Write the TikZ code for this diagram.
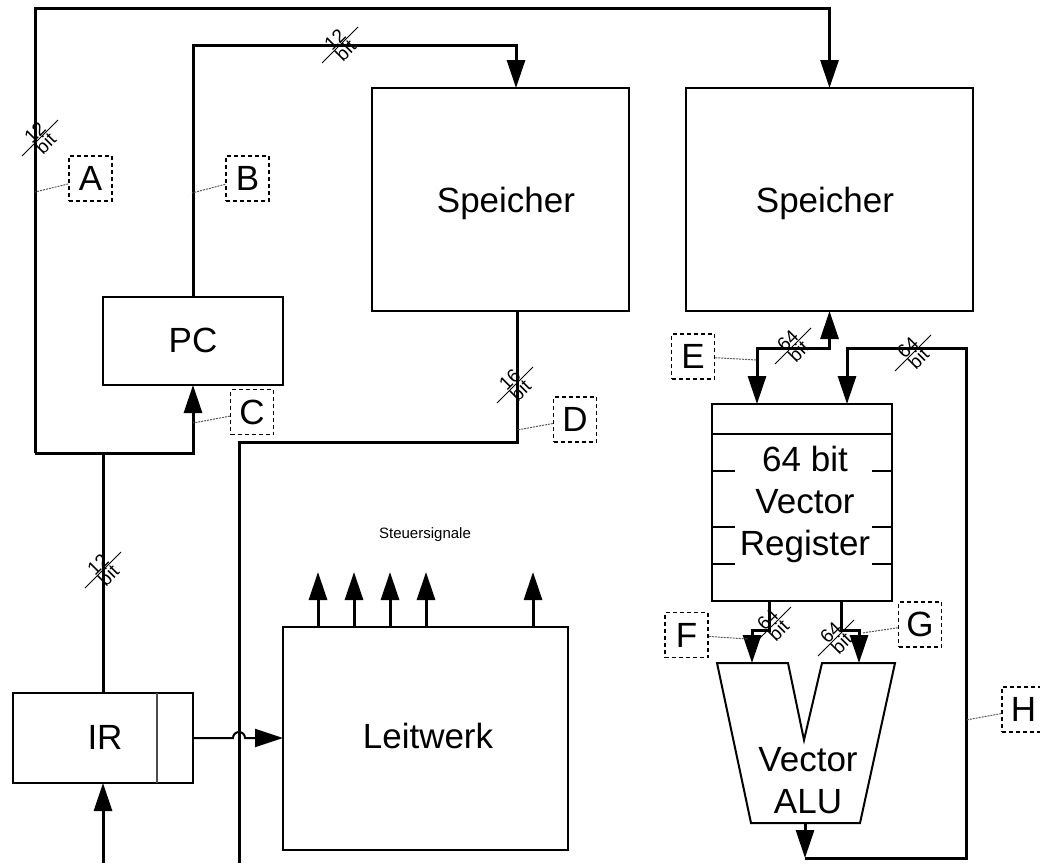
\documentclass[tikz,border=0pt]{standalone}
\usepackage{fontspec}
\setmainfont{Liberation Sans}
\usetikzlibrary{arrows.meta}

\newcommand{\labfont}{\fontsize{35}{42}\selectfont}
\newcommand{\bitfont}{\fontsize{19}{20}\selectfont}
\newcommand{\sigfont}{\fontsize{15}{17}\selectfont}

% bus width mark: name, x, y, width
\newcommand{\busmark}[4]{%
  \draw[line width=1pt] (#2-18,#3+18) -- (#2+18,#3-18);
  \node[rotate=45,anchor=south,inner sep=0.5pt,font=\bitfont] (#1n) at (#2,#3) {#4};
  \node[rotate=45,anchor=north,inner sep=0.5pt,font=\bitfont] (#1b) at (#2,#3) {bit};
}

\begin{document}
\begin{tikzpicture}[x=1pt,y=-1pt,>={Triangle[width=18pt,length=28pt]},
  box/.style={draw,line width=2pt,inner sep=0pt,outer sep=0pt},
  bus/.style={line width=3pt},
  wire/.style={line width=2pt},
  lbl/.style={draw,line width=1.5pt,dash pattern=on 4pt off 3pt,minimum width=43pt,minimum height=45pt,inner sep=0pt,font=\labfont},
  lead/.style={gray!70!black,line width=1pt,dash pattern=on 2pt off 1pt},
  txt/.style={inner sep=0pt,font=\labfont,anchor=base}]

\useasboundingbox (0,0) rectangle (1040,863);

% Rows of the buses
\def\yTop{8}
\def\yPc{45}
\def\yJ{453}
\def\yD{442}
\def\yE{348}
\def\yLoop{858}

% Boxes
\node[box,minimum width=257pt,minimum height=223pt] (spA) at (500.5,199.5) {};
\node[box,minimum width=287pt,minimum height=223pt] (spB) at (829.5,199.5) {};
\node[box,minimum width=180pt,minimum height=88pt] (pc) at (193,341) {};
\node[box,minimum width=180pt,minimum height=90pt] (ir) at (103,738) {};
\node[box,minimum width=285pt,minimum height=223pt] (lw) at (425.5,738) {};
\node[box,minimum width=180pt,minimum height=197pt] (reg) at (802,502.5) {};

% IR divider, register rows
\draw[line width=1.2pt,gray!60!black] ([xshift=-36pt]ir.north east) -- ([xshift=-36pt]ir.south east);
\draw[line width=2pt] ([yshift=-30pt]reg.north west) -- ([yshift=-30pt]reg.north east);
\foreach \ty in {471,527,564} {
  \draw[line width=2pt] (reg.west |- 0,\ty) -- ++(23,0);
  \draw[line width=2pt] (reg.east |- 0,\ty) -- ++(-20,0);
}

% Texts
\node[txt] (spAt) at (506,212) {Speicher};
\node[txt] (spBt) at (825,212) {Speicher};
\node[txt] (pct) at (193,352) {PC};
\node[txt] (irt) at (105,749) {IR};
\node[txt] (lwt) at (428,748) {Leitwerk};
\node[txt,anchor=center,align=center] (regt) at (805,504) {64 bit\\Vector\\Register};

% Vector ALU
\draw[wire] (717,663) -- (788,663) -- (804,740) -- (822,663) -- (895,663) -- (860,823) -- (751,823) -- cycle;
\coordinate (aluA) at (752,663);
\coordinate (aluB) at (859,663);
\coordinate (aluout) at (805,823);
\node[txt,anchor=center,align=center] (alut) at (808,781) {Vector\\ALU};

% Address buses
\coordinate (jL) at (35,\yJ);
\coordinate (jIR) at (103,\yJ);
\draw[bus] (ir.north) -- (jIR);
\draw[bus,->] (jL) -- (35,\yTop) -| (spB.north);
\draw[bus,->] (jL) -| (pc.south);
\coordinate (spAin) at (516,88);
\draw[bus,->] (pc.north) -- (193,\yPc) -| (spAin);

% Data bus to Leitwerk side
\coordinate (spAout) at (517,311);
\coordinate (lwbus) at (239,863);
\draw[bus] (spAout) -- (517,\yD) -| (lwbus);

% IR in and out
\coordinate (irin) at (103,863);
\draw[bus,->] (irin) -- (ir.south);
\draw[wire,->] (ir.east) -- (233,738) arc[start angle=180,end angle=0,radius=6pt] -- (lw.west);

% Steuersignale
\foreach \sx [count=\i] in {318,354,390,426,533} {
  \coordinate (st\i) at (\sx,572);
  \draw[bus,->] (lw.north -| st\i) -- (st\i);
}
\node[inner sep=0pt,font=\sigfont,anchor=base] (sig) at (425,538) {Steuersignale};

% Vector side
\coordinate (regA) at (757,404);
\coordinate (regB) at (847,404);
\draw[bus,<->] (regA) -- (757,\yE) -| (spB.south);
\coordinate (loopC) at (805,\yLoop);
\draw[bus,->] (aluout) -- (loopC);
\draw[bus,->] (loopC) -| (966,\yE) -| (regB);
\coordinate (regF) at (769,601);
\coordinate (regG) at (841,601);
\draw[bus,->] (regF) -- (769,630) -| (aluA);
\draw[bus,->] (regG) -- (841,630) -| (aluB);

% Bus widths
\busmark{mA}{40}{138}{12}
\busmark{mB}{340}{45}{12}
\busmark{mD}{515}{385}{16}
\busmark{mE}{793}{346}{64}
\busmark{mH}{913}{353}{64}
\busmark{mI}{103}{570}{12}
\busmark{mF}{773}{625}{64}
\busmark{mG}{836}{638}{64}

% Measuring points
\foreach \n/\lx/\ly/\px/\py in {A/90.5/178.5/35/192, B/247.5/178.5/192/193, C/252/412/193/423,
  D/575/419.5/517/430, E/693/356.5/757/360, F/686.5/635/748/639, G/920/624.5/862/633, H/1023.5/709.5/966/720} {
  \node[lbl] (\n) at (\lx,\ly) {\n};
  \coordinate (p\n) at (\px,\py);
  \draw[lead] (\n) -- (p\n);
}

\end{tikzpicture}
\end{document}
